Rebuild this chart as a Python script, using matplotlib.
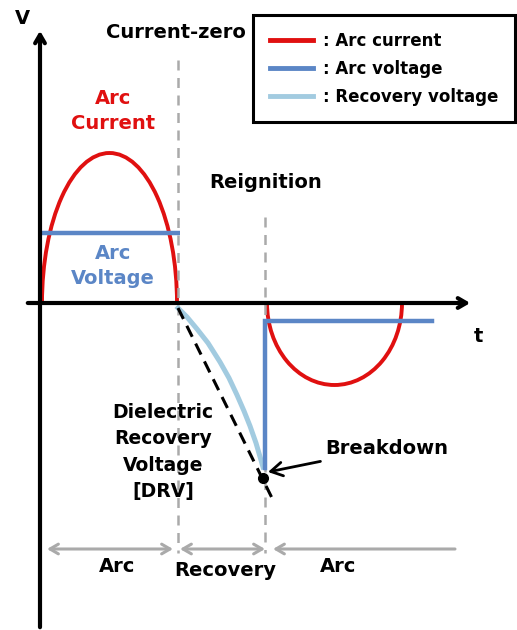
import numpy as np
import matplotlib.pyplot as plt
from matplotlib.patches import Arc
from matplotlib.lines import Line2D

# key times (arbitrary units, origin at the axis crossing)
t_zero = 137        # current zero
t_reig = 225        # reignition
t_end2 = 362        # end of the second current loop
t_vend = 392        # end of the arc voltage after reignition

arc_current_peak = 150
second_current_peak = -82
arc_voltage = 70
reig_arc_voltage = -18
breakdown_v = -165

# recovery voltage
rec_t = [138, 147, 157, 168, 180, 189, 197, 204, 210, 216, 223]
rec_v = [-5, -14, -26, -40, -59, -75, -92, -108, -123, -140, -164]

# dielectric recovery line and breakdown point
drv_t = [138, 232]
drv_v = [-5, -195]
bd_t, bd_v = 223, -175

red = '#e01010'
blue = '#5b86c6'
lblue = '#a2cbe0'
gray = '#aaaaaa'

plt.rcParams['font.family'] = ['DejaVu Sans']
fig = plt.figure(figsize=(5.17, 6.30), dpi=100)
ax = fig.add_axes([0, 0, 1, 1])
ax.set_xlim(-40, 477)
ax.set_ylim(-327, 303)
ax.axis('off')

# axes arrows
ax.annotate('', xy=(0, 275), xytext=(0, -327),
            arrowprops=dict(arrowstyle='->,head_length=0.6,head_width=0.35', lw=3, color='black'))
ax.annotate('', xy=(433, 0), xytext=(-15, 0),
            arrowprops=dict(arrowstyle='->,head_length=0.6,head_width=0.35', lw=3, color='black'))
ax.text(-18, 285, 'V', fontsize=14, fontweight='bold', ha='center', va='center')
ax.text(438, -33, 't', fontsize=14, fontweight='bold', ha='center', va='center')

# vertical dashed markers
ax.plot([t_zero + 1, t_zero + 1], [243, -250], color=gray, lw=1.8, ls=(0, (4, 3)))
ax.plot([t_reig, t_reig], [86, -250], color=gray, lw=1.8, ls=(0, (4, 3)))

# arc voltage
ax.plot([0, t_zero + 3], [arc_voltage, arc_voltage], color=blue, lw=3.2, solid_capstyle='butt')

# arc current loops
ax.add_patch(Arc((t_zero / 2 + 1, 0), t_zero - 2, 2 * arc_current_peak, theta1=0, theta2=180,
                 color=red, lw=2.8))
ax.plot([t_zero, t_reig], [0, 0], color=red, lw=2.8)
ax.add_patch(Arc(((t_reig + t_end2) / 2 + 1, 0), t_end2 - t_reig - 2, -2 * second_current_peak,
                 theta1=180, theta2=360, color=red, lw=2.8))

# recovery voltage and DRV
ax.plot(rec_t, rec_v, color=lblue, lw=3.6, solid_joinstyle='round')
ax.plot(drv_t, drv_v, color='black', lw=2.2, ls=(0, (4, 2.5)))

# reignited arc voltage
ax.plot([t_reig, t_reig, t_vend], [breakdown_v, reig_arc_voltage, reig_arc_voltage],
        color=blue, lw=3.2, solid_joinstyle='miter')
ax.plot(bd_t, bd_v, 'o', color='black', ms=7)

ax.annotate('Breakdown', xy=(bd_t + 5, bd_v + 6), xytext=(285, -145),
            fontsize=14, fontweight='bold', va='center', ha='left',
            arrowprops=dict(arrowstyle='->,head_length=0.6,head_width=0.35', lw=2, color='black',
                            shrinkA=4, shrinkB=0))

# labels
ax.text(136, 270, 'Current-zero', fontsize=14, fontweight='bold', ha='center', va='center')
ax.text(73, 192, 'Arc\nCurrent', fontsize=14, fontweight='bold', ha='center', va='center',
        color=red, linespacing=1.45)
ax.text(73, 37, 'Arc\nVoltage', fontsize=14, fontweight='bold', ha='center', va='center',
        color=blue, linespacing=1.45)
ax.text(226, 120, 'Reignition', fontsize=14, fontweight='bold', ha='center', va='center')
ax.text(123, -149, 'Dielectric\nRecovery\nVoltage\n[DRV]', fontsize=13.5, fontweight='bold',
        ha='center', va='center', linespacing=1.5)

# bottom phase arrows
aprops = dict(lw=2.2, color=gray, shrinkA=0, shrinkB=0)
ax.annotate('', xy=(7, -246), xytext=(133, -246),
            arrowprops=dict(arrowstyle='<->,head_length=0.6,head_width=0.35', **aprops))
ax.annotate('', xy=(140, -246), xytext=(225, -246),
            arrowprops=dict(arrowstyle='<->,head_length=0.6,head_width=0.35', **aprops))
ax.annotate('', xy=(233, -246), xytext=(415, -246),
            arrowprops=dict(arrowstyle='->,head_length=0.6,head_width=0.35', **aprops))
ax.text(77, -263, 'Arc', fontsize=14, fontweight='bold', ha='center', va='center')
ax.text(185, -267, 'Recovery', fontsize=14, fontweight='bold', ha='center', va='center')
ax.text(298, -263, 'Arc', fontsize=14, fontweight='bold', ha='center', va='center')

# legend
handles = [Line2D([], [], color=red, lw=3.5),
           Line2D([], [], color=blue, lw=3.5),
           Line2D([], [], color=lblue, lw=3.5)]
leg = ax.legend(handles, [': Arc current', ': Arc voltage', ': Recovery voltage'],
                loc='upper right', bbox_to_anchor=(0.996, 0.976), bbox_transform=fig.transFigure,
                borderaxespad=0, fancybox=False, framealpha=1, edgecolor='black',
                handlelength=2.6, handletextpad=0.6, borderpad=1.0, labelspacing=0.6,
                prop=dict(size=12, weight='bold'))
leg.get_frame().set_linewidth(2.2)

fig.savefig('out.png', dpi=100)
